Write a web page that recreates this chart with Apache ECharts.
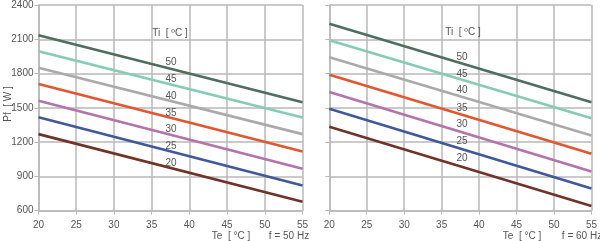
<!DOCTYPE html>
<html><head><meta charset="utf-8">
<script src="https://cdn.jsdelivr.net/npm/echarts@6/dist/echarts.min.js"></script>
<style>html,body{margin:0;padding:0;background:#fff}#c{width:600px;height:241px}</style>
</head><body><div id="c"></div>
<script>
const teValues = [20, 55];
const tiLabels = ['50','45','40','35','30','25','20'];
const colors = ['#4e6f60','#86cbb4','#aaaaaa','#e25630','#b274aa','#40599a','#6f3327'];
// Pf [W] at Te = 20 and Te = 55, f = 50 Hz
const pf50 = [
  [2135, 1550],
  [1995, 1415],
  [1850, 1270],
  [1708, 1118],
  [1562, 968],
  [1418, 820],
  [1270, 678]
];
// f = 60 Hz
const pf60 = [
  [2235, 1550],
  [2092, 1410],
  [1942, 1258],
  [1790, 1098],
  [1638, 944],
  [1492, 794],
  [1335, 642]
];
const xTicks = [20,25,30,35,40,45,50,55];
const yTicks = [600,900,1200,1500,1800,2100,2400];

const chart = echarts.init(document.getElementById('c'));
const gridColor = '#b9b9b9';
const font = 'Liberation Sans, Arial, sans-serif';
function xAxis(i){
  return {type:'value', gridIndex:i, min:xTicks[0], max:xTicks[xTicks.length-1], interval:5,
    axisLine:{show:true, lineStyle:{color:gridColor, width:1.5}},
    axisTick:{show:true, length:4, lineStyle:{color:gridColor}},
    axisLabel:{color:'#555', fontSize:10, fontFamily:font, margin:10, formatter: v => String(v)},
    splitLine:{show:true, lineStyle:{color:gridColor, width:1.5}}};
}
function yAxis(i, showLabel){
  return {type:'value', gridIndex:i, min:yTicks[0], max:yTicks[yTicks.length-1], interval:300,
    axisLine:{show:true, lineStyle:{color:gridColor, width:1.5}},
    axisTick:{show:true, length:4, lineStyle:{color:gridColor}},
    axisLabel:{show:showLabel, color:'#555', fontSize:10, fontFamily:font, margin:5, formatter: v => String(v)},
    splitLine:{show:true, lineStyle:{color:gridColor, width:1.5}}};
}
const series = [];
[pf50, pf60].forEach((set, gi) => {
  set.forEach((vals, k) => {
    series.push({type:'line', xAxisIndex:gi, yAxisIndex:gi, name:tiLabels[k],
      data: teValues.map((t, j) => [t, vals[j]]), symbol:'none', silent:true,
      lineStyle:{color:colors[k], width:2.6}, z:3});
  });
});
const leftLabelY = [62,79,96,113,129,146,163];
const rightLabelY = [57,74,90,108,124,141,158];
const txt = (x,y,t,extra) => Object.assign({type:'text', x, y, style:{text:t, fill:'#555', fontSize:10, fontFamily:font, textAlign:'center', textVerticalAlign:'middle'}, z:10}, extra||{});
const graphics = [];
graphics.push(txt(170, 33, 'Ti  [ ºC ]'));
graphics.push(txt(463, 32, 'Ti  [ ºC ]'));
tiLabels.forEach((l,k) => {
  graphics.push(txt(171, leftLabelY[k], l));
  graphics.push(txt(462, rightLabelY[k], l));
});
graphics.push(txt(231, 236, 'Te  [ °C ]'));
graphics.push(txt(289, 236, 'f = 50 Hz'));
graphics.push(txt(522, 236, 'Te  [ °C ]'));
graphics.push(txt(582, 236, 'f = 60 Hz'));
graphics.push({type:'text', x:8, y:104, rotation:Math.PI/2, style:{text:'Pf  [ W ]', fill:'#555', fontSize:10, fontFamily:font, textAlign:'center', textVerticalAlign:'middle'}});

chart.setOption({
  animation:false,
  backgroundColor:'#fff',
  grid:[
    {left:38.5, top:5, width:264, height:205.7},
    {left:329.3, top:5, width:264, height:205.7}
  ],
  xAxis:[xAxis(0), xAxis(1)],
  yAxis:[yAxis(0,true), yAxis(1,false)],
  series,
  graphic: graphics
});
</script></body></html>
